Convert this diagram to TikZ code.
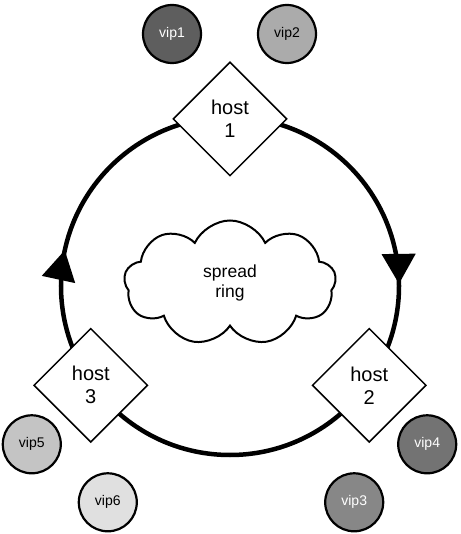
\documentclass[tikz,border=0pt]{standalone}
\usepackage{fontspec}
\setmainfont{Liberation Sans}
\usetikzlibrary{arrows.meta, positioning, shapes.geometric, shapes.symbols, decorations.markings}

\definecolor{vipdark}{gray}{0.37}
\definecolor{vipmid}{gray}{0.45}
\definecolor{viplight}{gray}{0.53}
\definecolor{vippale}{gray}{0.67}
\definecolor{vipsoft}{gray}{0.77}
\definecolor{vipwhite}{gray}{0.88}

\begin{document}
\begin{tikzpicture}[x=1pt, y=1pt, on grid,
    host/.style={diamond, draw, line width=1.5pt, fill=white, minimum width=114pt,
                 minimum height=114pt, inner sep=0pt, align=center,
                 font=\fontsize{20}{23}\selectfont},
    vip/.style={circle, draw, line width=2.2pt, minimum size=58pt, inner sep=0pt,
                font=\fontsize{14}{16}\selectfont},
    ringline/.style={line width=4.5pt,
        decoration={markings,
            mark=at position 0.248 with {\arrow{Triangle[width=33pt, length=30pt]}},
            mark=at position 0.784 with {\arrow{Triangle[width=33pt, length=30pt]}}},
        postaction={decorate}}]
    \useasboundingbox (-230,-248) rectangle (230,286);

    \coordinate (ring) at (0,0);
    \draw[ringline] (ring) ++(90:169) arc[start angle=90, end angle=-270, radius=169];

    \node[cloud, draw, line width=2pt, cloud puffs=9, cloud puff arc=130, aspect=1.7,
          minimum width=212pt, minimum height=125pt, align=center,
          font=\fontsize{17.5}{20}\selectfont]
          (spread) at (0,3) {spread\\ring};

    \node[host] (h1) at (90:167) {host\\1};
    \node[host] (h2) at (-35.5:171) {host\\2};
    \node[host] (h3) at (215.5:171) {host\\3};

    % virtual ips around each host
    \node[vip, fill=vipdark, text=white] (vip1) [above left=85pt and 58pt of h1] {vip1};
    \node[vip, fill=vippale] (vip2) [above right=85pt and 57pt of h1] {vip2};
    \node[vip, fill=viplight, text=white] (vip3) [below left=117pt and 15pt of h2] {vip3};
    \node[vip, fill=vipmid, text=white] (vip4) [below right=59pt and 58pt of h2] {vip4};
    \node[vip, fill=vipsoft] (vip5) [below left=59pt and 59pt of h3] {vip5};
    \node[vip, fill=vipwhite] (vip6) [below right=117pt and 17pt of h3] {vip6};
\end{tikzpicture}
\end{document}
